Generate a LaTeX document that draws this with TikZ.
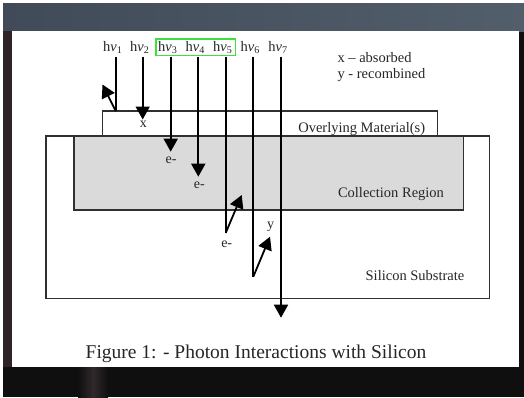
\documentclass[tikz,border=0pt]{standalone}
\usepackage{fontspec}
\setmainfont{Liberation Serif}
\usetikzlibrary{arrows.meta}
\definecolor{topband}{HTML}{404A58}
\definecolor{topbandR}{HTML}{535E6B}
\definecolor{darkbg}{HTML}{0F0F0F}
\definecolor{leftstrip}{HTML}{2E2428}
\definecolor{ink}{HTML}{262626}
\definecolor{boxline}{HTML}{303030}
\definecolor{regiongray}{HTML}{DADADA}
\definecolor{hilite}{HTML}{3EE03E}
\tikzset{
  boxstyle/.style={draw=boxline, line width=1.3pt},
  photon/.style={draw=black, line width=1.8pt},
  photonarrow/.style={photon, -{Triangle[length=13pt,width=14pt]}},
  lbl/.style={inner sep=0pt, text=ink, font=\fontsize{14.5}{17}\selectfont, anchor=base},
  small/.style={inner sep=0pt, text=ink, font=\fontsize{14}{16}\selectfont, anchor=base},
  caption/.style={inner sep=0pt, text=ink, font=\fontsize{19.5}{23}\selectfont, anchor=base},
}
\begin{document}
\begin{tikzpicture}[x=1pt,y=-1pt]
\useasboundingbox (0,0) rectangle (524,397);
% background
\fill[white] (0,0) rectangle (524,397);
\fill[darkbg] (3,3) rectangle (524,397);
\shade[left color=topband, right color=topbandR] (3,3) rectangle (524,31);
\fill[leftstrip] (3,31) rectangle (12,367);
\shade[left color=darkbg, right color=darkbg, middle color={rgb,255:red,48;green,40;blue,42}] (78,367) rectangle (108,397);
\fill[white] (12,31) rectangle (519,367);

% regions
\draw[boxstyle, fill=white] (46,136) rectangle (489.3,298.3);
\draw[boxstyle, fill=white] (102.3,111) rectangle (437.7,136);
\draw[boxstyle, fill=regiongray] (74,136) rectangle (463.3,210);

\node[lbl] (over) at (361.7,132) {Overlying Material(s)};
\node[lbl] (coll) at (391,197.7) {Collection Region};
\node[lbl] (silsub) at (415,280.7) {Silicon Substrate};

% legend
\node[lbl, anchor=base west] (legx) at (337.3,62.5) {x – absorbed};
\node[lbl, anchor=base west] (legy) at (337.3,78.5) {y - recombined};

% photon labels
\foreach \i/\x in {1/115.7,2/142.7,3/170.7,4/198.3,5/225.7,6/253.3,7/281} {
  \node[lbl] (h\i) at (\x-3,51.7) {h\textit{ν}\textsubscript{\i}};
  \coordinate (t\i) at (\x,56.7);
}
\draw[draw=hilite, line width=1.4pt] (156,39) rectangle (235.7,55.7);

% endpoints
\coordinate (r1) at (115.7,111);
\coordinate (a1) at (102.5,84.5);
\coordinate (a2) at (142.7,119.5);
\coordinate (a3) at (170.7,151.7);
\coordinate (a4) at (198.3,176.7);
\coordinate (r5) at (225.7,233);
\coordinate (a5) at (241.7,195);
\coordinate (r6) at (253.3,276.7);
\coordinate (a6) at (270,236.7);
\coordinate (a7) at (281,317.7);

\draw[photon] (t1) -- (r1);
\draw[photonarrow] (r1) -- (a1);
\draw[photonarrow] (t2) -- (a2);
\draw[photonarrow] (t3) -- (a3);
\draw[photonarrow] (t4) -- (a4);
\draw[photon] (t5) -- (r5);
\draw[photonarrow] (r5) -- (a5);
\draw[photon] (t6) -- (r6);
\draw[photonarrow] (r6) -- (a6);
\draw[photonarrow] (t7) -- (a7);

% event labels
\node[small] (lx) at (143.3,127.3) {x};
\node[small] (e3) at (171,163) {e-};
\node[small] (e4) at (199.3,188.3) {e-};
\node[small] (e5) at (226.7,247.3) {e-};
\node[small] (ly) at (270.7,228.7) {y};

% caption
\node[caption] (cap) at (256,358) {Figure 1: - Photon Interactions with Silicon};
\end{tikzpicture}
\end{document}
